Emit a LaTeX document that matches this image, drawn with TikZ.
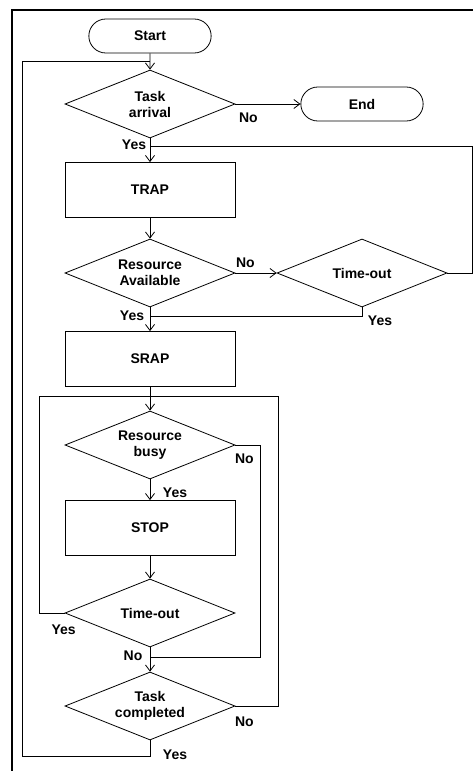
\documentclass[tikz,border=0pt]{standalone}
\usepackage{fontspec}
\setmainfont{Liberation Sans}
\usetikzlibrary{shapes,arrows.meta,calc}

\tikzset{
  terminal/.style={draw, rounded rectangle, minimum width=129pt, minimum height=34pt},
  decision/.style={draw, diamond, aspect=2.5, inner sep=1pt, minimum width=170pt, minimum height=68pt, align=center},
  process/.style={draw, rectangle, minimum width=170pt, minimum height=55pt},
  lbl/.style={inner sep=0pt},
}

\begin{document}
\begin{tikzpicture}[x=1pt, y=-1pt, node distance=86pt, auto,
  font=\fontsize{14}{16}\selectfont\bfseries,
  every path/.style={line width=0.8pt},
  >={Straight Barb[length=6pt,width=9pt]}]
\useasboundingbox (0,0) rectangle (473,771);
\draw[line width=1.3pt] (12,771) -- (12,10) -- (473,10);

\node[terminal]	(start) at (150,36)						{Start};
\node[decision]	(arrival)[below of = start, node distance=68pt]	{Task\\arrival};
\node[terminal]	(end)[right of = arrival, node distance=212pt]	{End};
\node[process]		(trap)[below of = arrival]				{TRAP};
\node[decision]	(avail)[below of = trap, node distance=83pt]		{Resource\\Available};
\node[decision]	(wait)[right of = avail, node distance=212pt]	{Time-out};
\node[process]		(srap)[below of = avail]				{SRAP};
\node[decision]	(busy)[below of = srap]					{Resource\\busy};
\node[process]		(stop)[below of = busy, node distance=83pt]		{STOP};
\node[decision]	(limit)[below of = stop, node distance=85pt]		{Time-out};
\node[decision]	(done)[below of = limit, node distance=93pt]		{Task\\completed};

\coordinate (j0) at ($(start.south)!0.5!(arrival.north)$);
\coordinate (j1) at ($(arrival.south)!0.33!(trap.north)$);
\coordinate (j2) at ($(avail.south)!0.4!(srap.north)$);
\coordinate (j3) at ($(srap.south)!0.38!(busy.north)$);
\coordinate (j4) at ($(limit.south)!0.4!(done.north)$);

\draw[->] (start) -- (arrival);
\draw[->] (arrival) -- (end);
\draw[->] (arrival) -- (trap);
\draw[->] (trap) -- (avail);
\draw[->] (avail) -- (wait);
\draw[->] (avail) -- (srap);
\draw[->] (srap) -- (busy);
\draw[->] (busy) -- (stop);
\draw[->] (stop) -- (limit);
\draw[->] (limit) -- (done);

% return paths
\draw (wait.east) -- ++(25,0) |- (j1);
\draw (wait.south) |- (j2);
\draw (busy.east) -- ++(25,0) |- (j4);
\draw (limit.west) -- ++(-25,0) |- (j3);
\draw (done.east) -- ++(43,0) |- (j3);
\draw (done.south) -- ++(0,16) -| ($(j0)+(-128,0)$) -- (j0);

% labels
\node[lbl] at ([xshift=13pt, yshift=-14pt]arrival.east)	{No};
\node[lbl] at ([xshift=-16pt, yshift=-6pt]arrival.south)	{Yes};
\node[lbl] at ([xshift=10pt, yshift=10pt]avail.east)		{No};
\node[lbl] at ([xshift=-18pt, yshift=-8pt]avail.south)		{Yes};
\node[lbl] at ([xshift=18pt, yshift=-13pt]wait.south)		{Yes};
\node[lbl] at ([xshift=9pt, yshift=-14pt]busy.east)		{No};
\node[lbl] at ([xshift=25pt, yshift=-13pt]busy.south)		{Yes};
\node[lbl] at ([xshift=-1pt, yshift=-17pt]limit.west)		{Yes};
\node[lbl] at ([xshift=-17pt, yshift=-8pt]limit.south)		{No};
\node[lbl] at ([xshift=9pt, yshift=-16pt]done.east)		{No};
\node[lbl] at ([xshift=25pt, yshift=-14pt]done.south)		{Yes};
\end{tikzpicture}
\end{document}
